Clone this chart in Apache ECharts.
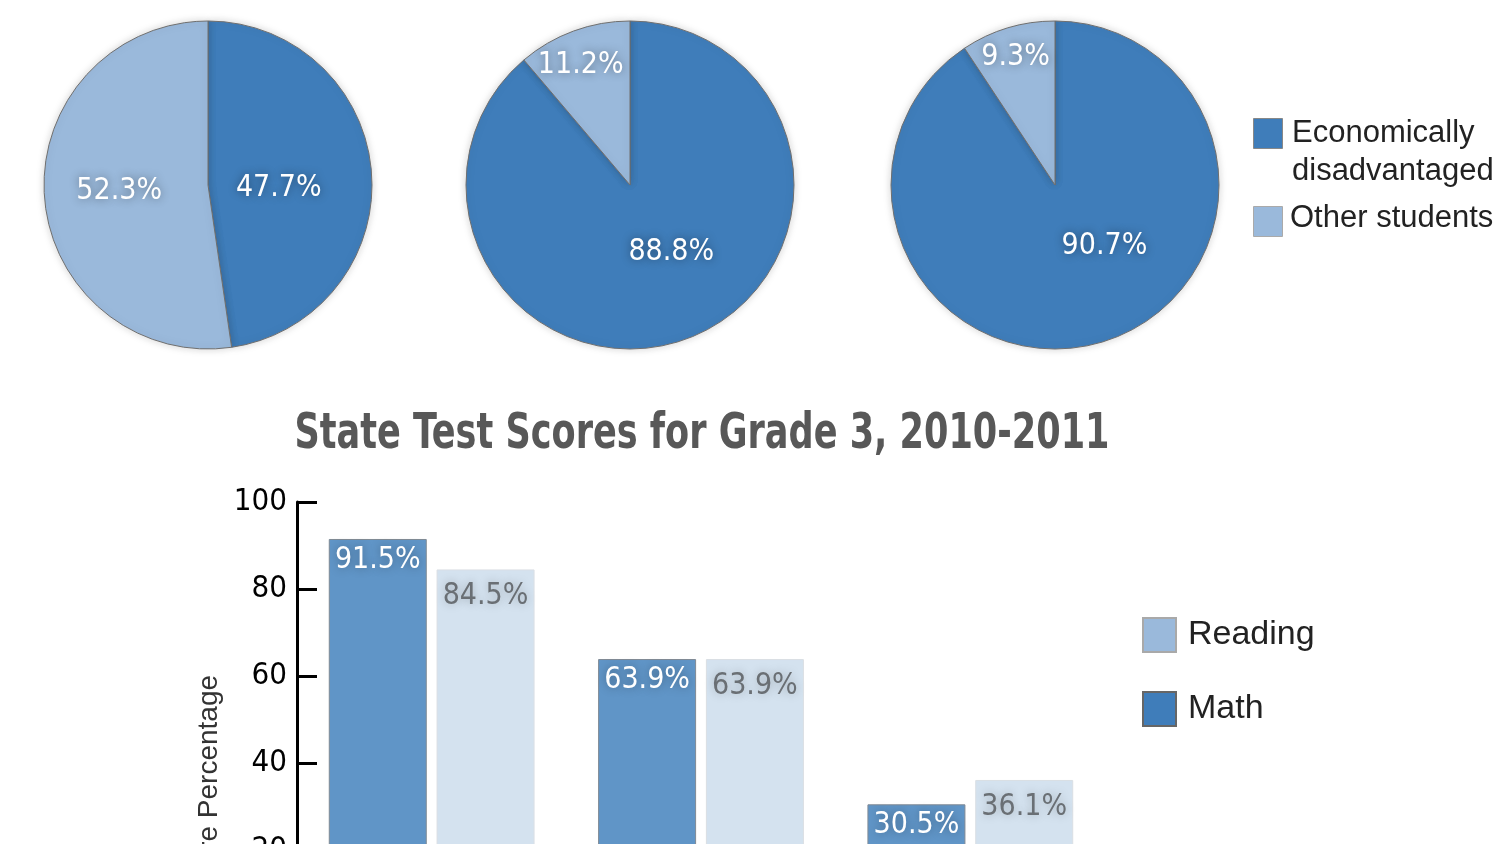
<!DOCTYPE html>
<html>
<head>
<meta charset="utf-8">
<script src="https://cdn.jsdelivr.net/npm/echarts@6/dist/echarts.min.js"></script>
<style>
  html, body { margin: 0; padding: 0; background: #fff; }
  #chart { width: 1500px; height: 844px; }
</style>
</head>
<body>
<div id="chart"></div>
<script>
// data
const pieNames = ['Economically disadvantaged', 'Other students']
const pie1 = [47.7, 52.3]
const pie2 = [88.8, 11.2]
const pie3 = [90.7, 9.3]

const categories = ['State', 'District', 'School']
const mathScores = [91.5, 63.9, 30.5]
const readingScores = [84.5, 63.9, 36.1]
const yTicks = [0, 20, 40, 60, 80, 100]

// styles
const NARROW = "'Liberation Sans Narrow', 'DejaVu Sans Condensed', sans-serif"
const SANS = "'Liberation Sans', Arial, sans-serif"
const DARK = '#3f7dba'
const LIGHT = '#9ab9db'

const pieCenters = [[208, 185], [630, 185], [1055, 185]]
// label nudges (px) from the default inside spot of each slice
const pieLabelShift = [
  [[-14, 9], [-4, 0]],
  [[12, -13], [-20, -40]],
  [[25, -20], [-15, -46]]
]

function makePie(values, idx) {
  return {
    type: 'pie',
    center: pieCenters[idx],
    radius: 164,
    startAngle: 90,
    clockwise: true,
    silent: true,
    itemStyle: {
      borderColor: '#6f6f6f',
      borderWidth: 1,
      shadowBlur: 8,
      shadowColor: 'rgba(0,0,0,0.18)'
    },
    label: {
      position: 'inside',
      formatter: p => p.value + '%',
      color: '#fff',
      fontFamily: NARROW,
      fontSize: 30,
      textShadowColor: 'rgba(0,0,0,0.45)',
      textShadowBlur: 10
    },
    labelLine: { show: false },
    labelLayout: p => ({ dx: pieLabelShift[idx][p.dataIndex][0], dy: pieLabelShift[idx][p.dataIndex][1] }),
    data: values.map((v, i) => ({
      name: pieNames[i],
      value: v,
      itemStyle: { color: i === 0 ? DARK : LIGHT }
    }))
  }
}

const chart = echarts.init(document.getElementById('chart'), null, { renderer: 'canvas' })

const option = {
  animation: false,
  legend: {
    orient: 'vertical',
    left: 1142,
    top: 617,
    padding: 0,
    itemWidth: 33,
    itemHeight: 34,
    itemGap: 38,
    selectedMode: false,
    textStyle: { fontFamily: SANS, fontSize: 34, color: '#222', padding: [0, 0, 0, 7] },
    data: [
      { name: 'Reading', icon: 'rect', itemStyle: { color: LIGHT, borderColor: '#a9a9a9', borderWidth: 2 } },
      { name: 'Math', icon: 'rect', itemStyle: { color: DARK, borderColor: '#666', borderWidth: 2 } }
    ]
  },
  grid: { left: 297, top: 502, width: 808, height: 435, outerBoundsMode: 'none', containLabel: false },
  xAxis: {
    type: 'category',
    data: categories,
    axisLine: { lineStyle: { color: '#000', width: 3 } },
    axisTick: { show: false },
    axisLabel: { fontFamily: NARROW, fontSize: 30, color: '#000' }
  },
  yAxis: {
    type: 'value',
    min: yTicks[0],
    max: yTicks[yTicks.length - 1],
    interval: 20,
    name: 'Score Percentage',
    nameLocation: 'middle',
    nameGap: 66,
    nameTextStyle: { fontFamily: SANS, fontSize: 28, color: '#333', padding: [0, 135, 0, 0] },
    axisLine: { show: true, lineStyle: { color: '#000', width: 3 } },
    axisTick: { show: true, inside: true, length: 20, lineStyle: { color: '#000', width: 3 } },
    axisLabel: { fontFamily: NARROW, fontSize: 31, color: '#000', margin: 10 },
    splitLine: { show: false }
  },
  graphic: [
    // title, squeezed to look like the condensed face of the original
    {
      type: 'text', x: 702, y: 435, scaleX: 0.78, silent: true,
      style: {
        text: 'State Test Scores for Grade 3, 2010-2011',
        font: 'bold 50px ' + NARROW, fill: '#585858', align: 'center', verticalAlign: 'middle'
      }
    },
    // legend for the pies
    { type: 'rect', left: 1253, top: 118, shape: { width: 29, height: 30 }, style: { fill: DARK, stroke: '#888', lineWidth: 1 } },
    { type: 'text', left: 1292, top: 114, style: { text: 'Economically\ndisadvantaged', font: '31px ' + SANS, fill: '#222', lineHeight: 38 } },
    { type: 'rect', left: 1253, top: 206, shape: { width: 29, height: 30 }, style: { fill: LIGHT, stroke: '#aaa', lineWidth: 1 } },
    { type: 'text', left: 1290, top: 203, style: { text: 'Other students', font: '31px ' + SANS, fill: '#222' } }
  ],
  series: [
    makePie(pie1, 0),
    makePie(pie2, 1),
    makePie(pie3, 2),
    {
      name: 'Math',
      type: 'bar',
      data: mathScores,
      barWidth: 98,
      barGap: '10%',
      itemStyle: { color: '#6095c7', borderColor: '#808a94', borderWidth: 1 },
      label: {
        show: true,
        position: 'insideTop',
        distance: 6,
        formatter: p => p.value + '%',
        fontFamily: NARROW,
        fontSize: 30,
        color: '#fff',
        textShadowColor: 'rgba(0,0,0,0.35)',
        textShadowBlur: 10
      }
    },
    {
      name: 'Reading',
      type: 'bar',
      data: readingScores,
      barWidth: 98,
      itemStyle: { color: '#d4e2ef', borderColor: '#dadfe4', borderWidth: 1 },
      label: {
        show: true,
        position: 'insideTop',
        distance: 12,
        formatter: p => p.value + '%',
        fontFamily: NARROW,
        fontSize: 30,
        color: '#6a6f74',
        textShadowColor: 'rgba(0,0,0,0.25)',
        textShadowBlur: 10
      }
    }
  ]
}

chart.setOption(option)
</script>
</body>
</html>
